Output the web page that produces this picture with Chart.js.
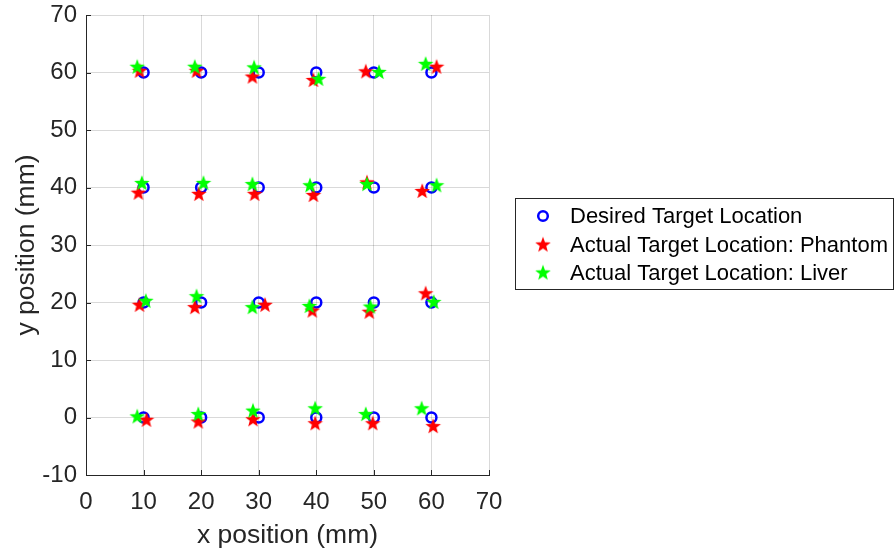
<!DOCTYPE html>
<html lang="en">
<head>
    <meta charset="UTF-8">
    <title>Target Location Scatter</title>
    <script src="https://cdn.jsdelivr.net/npm/chart.js"></script>
    <style>
        html, body { margin: 0; padding: 0; background: #fff; }
        #wrap { width: 896px; height: 552px; position: relative; }
    </style>
</head>
<body>
    <div id="wrap">
        <canvas id="scatterChart" width="896" height="552"></canvas>
    </div>

    <script>
        // Data (mm)
        const seriesLabels = ['Desired Target Location', 'Actual Target Location: Phantom', 'Actual Target Location: Liver'];

        const desiredX = [10, 20, 30, 40, 50, 60, 10, 20, 30, 40, 50, 60, 10, 20, 30, 40, 50, 60, 10, 20, 30, 40, 50, 60];
        const desiredY = [60, 60, 60, 60, 60, 60, 40, 40, 40, 40, 40, 40, 20, 20, 20, 20, 20, 20, 0, 0, 0, 0, 0, 0];

        const phantomX = [9.3, 19.2, 28.9, 39.5, 48.6, 60.9,
                          9.1, 19.6, 29.3, 39.5, 48.8, 58.4,
                          9.3, 18.9, 31.1, 39.3, 49.2, 59.0,
                          10.5, 19.5, 29.0, 39.8, 49.8, 60.3];
        const phantomY = [60.3, 60.3, 59.3, 58.7, 60.2, 61.0,
                          39.1, 38.9, 38.9, 38.7, 40.9, 39.4,
                          19.6, 19.2, 19.6, 18.6, 18.4, 21.6,
                          -0.4, -0.7, -0.3, -1.0, -1.0, -1.5];

        const liverX = [8.9, 18.9, 29.2, 40.4, 50.9, 59.0,
                        9.7, 20.4, 28.9, 38.9, 48.8, 60.9,
                        10.4, 19.2, 28.9, 38.8, 49.4, 60.4,
                        8.9, 19.5, 29.0, 39.8, 48.6, 58.3];
        const liverY = [61.0, 61.0, 60.9, 58.9, 60.1, 61.5,
                        40.8, 40.8, 40.6, 40.4, 40.6, 40.4,
                        20.3, 21.1, 19.2, 19.4, 19.3, 20.1,
                        0.2, 0.6, 1.2, 1.6, 0.6, 1.6];

        const xTicks = [0, 10, 20, 30, 40, 50, 60, 70];
        const yTicks = [-10, 0, 10, 20, 30, 40, 50, 60, 70];

        const FONT = '"Liberation Sans", Arial, Helvetica, sans-serif';
        const AXIS_COLOR = '#262626';

        function toPoints(xs, ys) {
            return xs.map((x, i) => ({ x: x, y: ys[i] }));
        }

        // filled five-pointed star marker
        function makeStar(color) {
            const c = document.createElement('canvas');
            c.width = 18;
            c.height = 18;
            const g = c.getContext('2d');
            const cx = 9, cy = 9.5, outer = 8.2, inner = 3.4;
            g.beginPath();
            for (let i = 0; i < 10; i++) {
                const r = i % 2 === 0 ? outer : inner;
                const a = -Math.PI / 2 + i * Math.PI / 5;
                const px = cx + r * Math.cos(a);
                const py = cy + r * Math.sin(a);
                if (i === 0) g.moveTo(px, py); else g.lineTo(px, py);
            }
            g.closePath();
            g.fillStyle = color;
            g.fill();
            return c;
        }

        const redStar = makeStar('#ff0000');
        const greenStar = makeStar('#00ff00');

        // inward tick marks + legend box, MATLAB style
        const matlabExtras = {
            id: 'matlabExtras',
            afterDraw(chart) {
                const ctx = chart.ctx;
                const area = chart.chartArea;
                const xs = chart.scales.x;
                const ys = chart.scales.y;
                ctx.save();
                ctx.strokeStyle = AXIS_COLOR;
                ctx.lineWidth = 1;
                ctx.beginPath();
                xTicks.forEach(v => {
                    const px = Math.round(xs.getPixelForValue(v)) + 0.5;
                    ctx.moveTo(px, area.bottom);
                    ctx.lineTo(px, area.bottom - 5);
                });
                yTicks.forEach(v => {
                    const py = Math.round(ys.getPixelForValue(v)) + 0.5;
                    ctx.moveTo(area.left, py);
                    ctx.lineTo(area.left + 5, py);
                });
                ctx.stroke();

                // legend
                const box = { left: 515.5, top: 198.5, right: 893.5, bottom: 289.5 };
                ctx.fillStyle = '#fff';
                ctx.fillRect(box.left, box.top, box.right - box.left, box.bottom - box.top);
                ctx.strokeStyle = '#262626';
                ctx.lineWidth = 1;
                ctx.strokeRect(box.left, box.top, box.right - box.left, box.bottom - box.top);

                const rows = [216, 245, 273];
                ctx.font = '22px ' + FONT;
                ctx.textBaseline = 'middle';
                ctx.textAlign = 'left';
                chart.data.datasets.forEach((ds, i) => {
                    const y = rows[i];
                    if (ds.pointStyle === 'circle') {
                        ctx.beginPath();
                        ctx.arc(543, y, 4.8, 0, Math.PI * 2);
                        ctx.strokeStyle = ds.borderColor;
                        ctx.lineWidth = 2.5;
                        ctx.stroke();
                    } else {
                        ctx.drawImage(ds.pointStyle, 543 - 9, y - 9.5);
                    }
                    ctx.fillStyle = '#000';
                    ctx.fillText(ds.label, 570, y + 1);
                });
                ctx.restore();
            }
        };

        function initChart() {
            const ctx = document.getElementById('scatterChart').getContext('2d');

            new Chart(ctx, {
                type: 'scatter',
                data: {
                    datasets: [
                        {
                            label: seriesLabels[0],
                            data: toPoints(desiredX, desiredY),
                            pointStyle: 'circle',
                            pointRadius: 5,
                            pointHoverRadius: 5,
                            borderColor: '#0000ff',
                            backgroundColor: 'rgba(0,0,0,0)',
                            borderWidth: 2.5,
                            order: 2
                        },
                        {
                            label: seriesLabels[1],
                            data: toPoints(phantomX, phantomY),
                            pointStyle: redStar,
                            borderColor: '#ff0000',
                            backgroundColor: '#ff0000',
                            order: 1
                        },
                        {
                            label: seriesLabels[2],
                            data: toPoints(liverX, liverY),
                            pointStyle: greenStar,
                            borderColor: '#00ff00',
                            backgroundColor: '#00ff00',
                            order: 0
                        }
                    ]
                },
                options: {
                    responsive: false,
                    animation: false,
                    layout: {
                        padding: { top: 15, right: 407, left: 0, bottom: 0 }
                    },
                    plugins: {
                        legend: { display: false },
                        tooltip: { enabled: false }
                    },
                    scales: {
                        x: {
                            type: 'linear',
                            min: 0,
                            max: 70,
                            afterBuildTicks: axis => { axis.ticks = xTicks.map(v => ({ value: v })); },
                            afterFit: axis => {
                                axis.height = 77;
                                axis.paddingLeft = 0;
                                axis.paddingRight = 0;
                            },
                            grid: { color: 'rgba(0,0,0,0.15)', drawTicks: false },
                            border: { color: AXIS_COLOR, width: 1 },
                            ticks: {
                                color: AXIS_COLOR,
                                padding: 13,
                                font: { family: FONT, size: 24 },
                                maxRotation: 0
                            },
                            title: {
                                display: true,
                                text: 'x position (mm)',
                                color: AXIS_COLOR,
                                font: { family: FONT, size: 26.5 },
                                padding: { top: 0, bottom: 0 }
                            }
                        },
                        y: {
                            type: 'linear',
                            min: -10,
                            max: 70,
                            afterBuildTicks: axis => { axis.ticks = yTicks.map(v => ({ value: v })); },
                            afterFit: axis => {
                                axis.width = 86;
                                axis.paddingTop = 0;
                                axis.paddingBottom = 0;
                            },
                            grid: { color: 'rgba(0,0,0,0.15)', drawTicks: false },
                            border: { color: AXIS_COLOR, width: 1 },
                            ticks: {
                                color: AXIS_COLOR,
                                padding: 9,
                                font: { family: FONT, size: 24 }
                            },
                            title: {
                                display: true,
                                text: 'y position (mm)',
                                color: AXIS_COLOR,
                                font: { family: FONT, size: 26.5 },
                                padding: { top: 11, bottom: 0 }
                            }
                        }
                    }
                },
                plugins: [matlabExtras]
            });
        }

        document.addEventListener('DOMContentLoaded', initChart);
    </script>
</body>
</html>
